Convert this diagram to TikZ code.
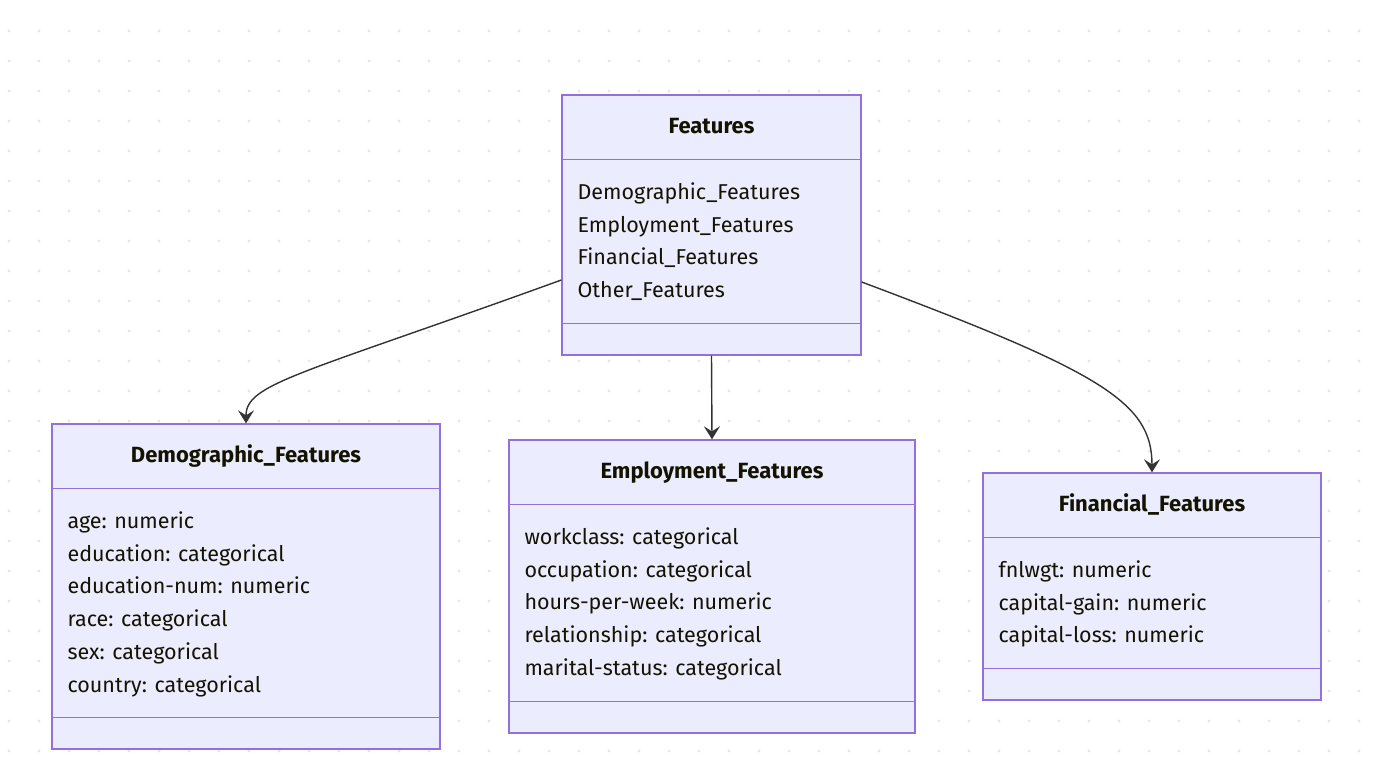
\documentclass[tikz,border=0pt]{standalone}
\usepackage{fontspec}
\setmainfont{Fira Sans}
\usepackage{xcolor}
\definecolor{classfill}{HTML}{ECECFF}
\definecolor{classline}{HTML}{9370DB}
\definecolor{edgeink}{HTML}{333333}
\definecolor{ink}{HTML}{131300}
\definecolor{griddot}{HTML}{E6E6E6}
\usepackage{tikz}
\usetikzlibrary{arrows.meta,positioning,calc}

\begin{document}
\begin{tikzpicture}[x=1pt,y=-1pt,
  cls/.style={rectangle,draw=classline,fill=classfill,line width=1.3pt,inner sep=0pt},
  sep/.style={classline,line width=1.3pt},
  clstitle/.style={font=\fontsize{22}{26}\selectfont\bfseries,text=ink,inner sep=0pt,anchor=base},
  attrs/.style={font=\fontsize{21.5}{32.8}\selectfont,text=ink,align=left,inner sep=0pt,
    anchor=north west,execute at begin node=\strut},
  arr/.style={-{Stealth[length=13pt,width=16pt,inset=5pt]},edgeink,line width=1.4pt}]
  \useasboundingbox (0,0) rectangle (1385,773);
  % dotted background
  \foreach \x in {9,39,...,1359}
    \foreach \y in {31,61,...,751}
      \fill[griddot] (\x,\y) circle (1.6pt);

  % classes
  \node[cls,minimum width=299pt,minimum height=260pt] (feat) at (711.5,225) {};
  \node[cls,minimum width=388pt,minimum height=325pt] (demo) at (246,586.5) {};
  \node[cls,minimum width=406pt,minimum height=293pt] (emp) at (712,586.5) {};
  \node[cls,minimum width=338pt,minimum height=227pt] (fin) at (1152,586.5) {};

  \node[clstitle] (feat-t) at ([yshift=-39pt]feat.north) {Features};
  \node[clstitle] (demo-t) at ([yshift=-39pt]demo.north) {Demographic\_Features};
  \node[clstitle] (emp-t) at ([yshift=-39pt]emp.north) {Employment\_Features};
  \node[clstitle] (fin-t) at ([yshift=-39pt]fin.north) {Financial\_Features};

  \foreach \c in {feat,demo,emp,fin} {
    \draw[sep] ([yshift=-65pt]\c.north west) -- ([yshift=-65pt]\c.north east);
    \draw[sep] ([yshift=32pt]\c.south west) -- ([yshift=32pt]\c.south east);
  }

  % attributes
  \node[attrs] (feat-a) at ([xshift=16pt,yshift=-88pt]feat.north west)
    {Demographic\_Features\\Employment\_Features\\Financial\_Features\\Other\_Features};
  \node[attrs] (demo-a) at ([xshift=16pt,yshift=-88pt]demo.north west)
    {age: numeric\\education: categorical\\education-num: numeric\\race: categorical\\sex: categorical\\country: categorical};
  \node[attrs] (emp-a) at ([xshift=16pt,yshift=-88pt]emp.north west)
    {workclass: categorical\\occupation: categorical\\hours-per-week: numeric\\relationship: categorical\\marital-status: categorical};
  \node[attrs] (fin-a) at ([xshift=16pt,yshift=-88pt]fin.north west)
    {fnlwgt: numeric\\capital-gain: numeric\\capital-loss: numeric};

  % relations
  \draw[arr] ([yshift=-55pt]feat.west) .. controls +(-262,95) and +(0,-40) .. (demo.north);
  \draw[arr] (feat.south) -- (emp.north);
  \draw[arr] ([yshift=-57pt]feat.east) .. controls +(240,90) and +(0,-70) .. (fin.north);
\end{tikzpicture}
\end{document}
